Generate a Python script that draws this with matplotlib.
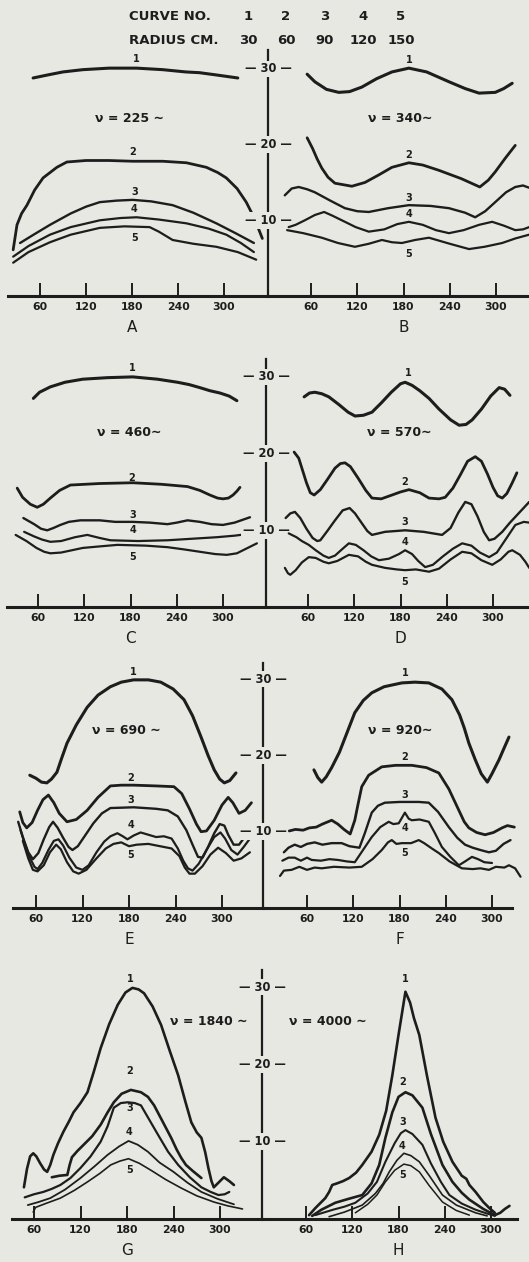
"""Radial distribution curves, eight frequencies (panels A-H), five radii each."""
import matplotlib
matplotlib.use("Agg")
import matplotlib.pyplot as plt
import matplotlib.transforms as mtransforms

W, H = 529, 1262
BG = "#e7e8e2"
INK = "#1d1d1d"

# ---------- data (angle in degrees, ordinate) ----------

CURVE_NO = ["1", "2", "3", "4", "5"]
RADIUS_CM = ["30", "60", "90", "120", "150"]
ANGLE_TICKS = [60, 120, 180, 240, 300]
Y_MARKS = [10, 20, 30]
PANELS = ["A", "B", "C", "D", "E", "F", "G", "H"]
FREQ_TEXT = ["ν = 225 ∼", "ν = 340∼", "ν = 460∼", "ν = 570∼",
             "ν = 690 ∼", "ν = 920∼", "ν = 1840 ∼", "ν = 4000 ∼"]

A1 = [(51, 28.8), (70, 29.2), (90, 29.6), (116, 29.9), (150, 30.1), (186, 30.1), (220, 29.9),
      (250, 29.6), (268, 29.5), (290, 29.2), (318, 28.8)]
A2 = [(25, 6.1), (30, 9.4), (36, 10.9), (43, 12.0), (53, 14.0), (64, 15.6), (82, 17.0), (95, 17.7),
      (120, 17.9), (150, 17.9), (181, 17.8), (220, 17.8), (251, 17.6), (277, 17.0), (292, 16.3),
      (303, 15.6), (317, 14.2), (329, 12.4), (337, 10.8), (343, 9.4), (350, 7.6)]
A3 = [(34, 7.0), (50, 8.0), (73, 9.4), (100, 10.9), (120, 11.8), (138, 12.4), (160, 12.6),
      (181, 12.7), (205, 12.5), (233, 12.0), (260, 11.0), (290, 9.6), (315, 8.3), (339, 7.0)]
A4 = [(25, 5.2), (45, 6.6), (73, 8.1), (100, 9.1), (138, 10.0), (165, 10.3), (186, 10.4),
      (215, 10.1), (251, 9.6), (280, 8.9), (303, 8.1), (322, 7.0), (339, 5.8)]
A5 = [(25, 4.4), (45, 5.8), (73, 7.1), (100, 8.1), (138, 9.0), (170, 9.2), (203, 9.1), (215, 8.5),
      (233, 7.4), (260, 6.9), (290, 6.5), (318, 5.8), (342, 4.8)]

B1 = [(55, 29.3), (65, 28.3), (80, 27.3), (96, 26.9), (110, 27.0), (126, 27.6), (145, 28.7),
      (165, 29.6), (187, 30.1), (210, 29.6), (239, 28.3), (260, 27.4), (278, 26.8), (299, 26.9),
      (310, 27.4), (321, 28.1)]
B2 = [(55, 20.9), (62, 19.5), (68, 18.1), (74, 16.9), (82, 15.7), (91, 14.9), (113, 14.5),
      (130, 15.0), (148, 16.0), (165, 17.0), (187, 17.6), (205, 17.3), (226, 16.6), (255, 15.5),
      (279, 14.4), (290, 15.3), (299, 16.4), (312, 18.2), (325, 19.9)]
B3 = [(26, 13.3), (35, 14.2), (44, 14.4), (55, 14.1), (65, 13.7), (85, 12.6), (104, 11.6),
      (120, 11.2), (135, 11.1), (160, 11.6), (187, 12.0), (215, 11.9), (239, 11.6), (260, 11.0),
      (273, 10.4), (286, 11.2), (299, 12.4), (313, 13.7), (325, 14.4), (335, 14.6), (343, 14.3)]
B4 = [(31, 9.1), (40, 9.4), (52, 10.0), (65, 10.7), (77, 11.1), (88, 10.6), (100, 10.0),
      (118, 9.1), (135, 8.5), (155, 8.8), (172, 9.5), (187, 9.8), (205, 9.4), (222, 8.7),
      (239, 8.3), (258, 8.7), (278, 9.4), (295, 9.8), (310, 9.3), (325, 8.7), (335, 8.8), (343, 9.1)]
B5 = [(29, 8.7), (50, 8.3), (74, 7.7), (95, 7.0), (117, 6.5), (135, 6.9), (152, 7.4), (165, 7.1),
      (178, 7.0), (195, 7.4), (213, 7.7), (240, 6.9), (265, 6.2), (285, 6.5), (308, 7.0),
      (325, 7.6), (343, 8.1)]

C1 = [(54, 27.2), (62, 28.0), (76, 28.7), (95, 29.3), (118, 29.7), (150, 29.9), (183, 30.0),
      (215, 29.7), (241, 29.3), (256, 29.0), (270, 28.6), (283, 28.2), (296, 27.9), (308, 27.5),
      (318, 26.9)]
C2 = [(33, 15.5), (40, 14.3), (50, 13.4), (59, 13.0), (67, 13.4), (76, 14.2), (88, 15.2),
      (102, 15.9), (140, 16.1), (183, 16.2), (220, 16.0), (254, 15.7), (270, 15.2), (283, 14.6),
      (293, 14.2), (300, 14.1), (307, 14.2), (313, 14.6), (318, 15.1), (322, 15.6)]
C3 = [(41, 11.6), (55, 10.8), (64, 10.2), (72, 10.0), (80, 10.3), (89, 10.7), (100, 11.1),
      (115, 11.3), (140, 11.3), (160, 11.1), (183, 11.1), (205, 11.0), (228, 10.8), (240, 11.0),
      (254, 11.3), (270, 11.1), (285, 10.8), (300, 10.7), (315, 11.0), (335, 11.7)]
C4 = [(42, 9.8), (55, 9.2), (65, 8.8), (76, 8.5), (90, 8.6), (108, 9.1), (124, 9.4), (140, 9.0),
      (154, 8.7), (190, 8.6), (228, 8.7), (260, 8.9), (292, 9.1), (315, 9.3), (339, 9.6)]
C5 = [(31, 9.4), (45, 8.6), (58, 7.7), (68, 7.2), (76, 7.0), (90, 7.1), (104, 7.4), (118, 7.7),
      (140, 7.9), (163, 8.1), (200, 8.0), (228, 7.8), (250, 7.5), (270, 7.2), (290, 6.9),
      (305, 6.8), (318, 7.0), (330, 7.6), (344, 8.3)]

D1 = [(55, 27.4), (62, 27.9), (69, 28.0), (78, 27.8), (87, 27.4), (100, 26.4), (112, 25.4),
      (121, 24.9), (132, 25.0), (143, 25.4), (155, 26.6), (168, 28.0), (180, 29.1), (186, 29.3),
      (195, 28.9), (205, 28.2), (217, 27.2), (230, 25.8), (245, 24.4), (256, 23.7), (265, 23.8),
      (273, 24.4), (285, 25.8), (297, 27.5), (308, 28.6), (315, 28.4), (322, 27.6)]
D2 = [(42, 20.2), (48, 19.4), (53, 17.8), (58, 16.2), (63, 14.9), (68, 14.6), (76, 15.3),
      (85, 16.6), (95, 18.1), (102, 18.7), (108, 18.8), (115, 18.3), (125, 16.8), (135, 15.2),
      (143, 14.2), (155, 14.1), (169, 14.6), (180, 15.0), (191, 15.3), (205, 14.9), (217, 14.2),
      (230, 14.1), (238, 14.3), (248, 15.5), (258, 17.3), (267, 19.0), (277, 19.6), (285, 19.0),
      (293, 17.3), (300, 15.6), (306, 14.5), (312, 14.2), (318, 14.8), (325, 16.2), (331, 17.5)]
D3 = [(31, 11.6), (37, 12.2), (43, 12.4), (50, 11.6), (58, 10.2), (66, 9.0), (72, 8.6), (76, 8.7),
      (85, 9.9), (95, 11.3), (105, 12.6), (114, 12.9), (121, 12.2), (130, 10.9), (137, 9.9),
      (143, 9.4), (160, 9.8), (186, 10.0), (210, 9.8), (234, 9.4), (245, 10.3), (255, 12.3),
      (264, 13.7), (272, 13.4), (280, 11.8), (288, 9.8), (295, 8.7), (302, 8.9), (312, 9.8),
      (322, 11.0), (335, 12.4), (347, 13.7)]
D4 = [(35, 9.6), (45, 9.1), (52, 8.6), (61, 8.1), (70, 7.4), (80, 6.7), (87, 6.4), (95, 6.7),
      (105, 7.6), (113, 8.3), (122, 8.1), (132, 7.4), (142, 6.6), (152, 6.1), (165, 6.3),
      (178, 6.9), (186, 7.4), (195, 6.9), (203, 6.0), (212, 5.2), (222, 5.5), (235, 6.6),
      (248, 7.6), (260, 8.3), (272, 8.0), (283, 7.1), (295, 6.5), (305, 7.1), (315, 8.6),
      (329, 10.7), (340, 11.1), (347, 11.0)]
D5 = [(30, 5.1), (34, 4.4), (37, 4.2), (44, 4.8), (52, 5.8), (61, 6.5), (70, 6.4), (80, 5.9),
      (87, 5.7), (98, 6.0), (113, 6.8), (125, 6.6), (135, 5.9), (143, 5.5), (160, 5.1), (175, 4.9),
      (186, 4.8), (200, 4.9), (217, 4.6), (230, 5.0), (245, 6.2), (260, 7.2), (272, 7.0),
      (285, 6.1), (299, 5.5), (310, 6.2), (320, 7.2), (325, 7.4), (335, 6.8), (342, 5.9), (347, 5.1)]

E1 = [(52, 17.4), (60, 17.0), (67, 16.5), (74, 16.4), (80, 16.9), (87, 17.8), (93, 19.6),
      (100, 21.6), (112, 24.0), (126, 26.3), (140, 27.9), (156, 29.0), (170, 29.6), (186, 29.9),
      (205, 29.9), (221, 29.6), (237, 28.7), (251, 27.3), (262, 25.2), (273, 22.4), (282, 20.0),
      (290, 18.1), (297, 16.9), (303, 16.4), (310, 16.7), (318, 17.7)]
E2 = [(39, 12.6), (43, 11.2), (48, 10.5), (55, 11.2), (62, 12.8), (69, 14.2), (76, 14.8),
      (83, 13.8), (90, 12.4), (100, 11.3), (112, 11.6), (126, 12.8), (140, 14.5), (156, 16.0),
      (170, 16.1), (186, 16.1), (215, 16.0), (238, 15.9), (248, 15.0), (258, 13.0), (267, 11.0),
      (273, 10.0), (280, 10.1), (290, 11.5), (300, 13.5), (308, 14.5), (314, 13.8), (322, 12.4),
      (330, 12.8), (338, 13.8)]
E3 = [(37, 11.3), (43, 9.3), (50, 7.3), (56, 6.4), (63, 7.2), (70, 9.0), (77, 10.6), (82, 11.3),
      (88, 10.5), (95, 9.2), (102, 8.0), (107, 7.6), (114, 8.1), (124, 9.6), (134, 11.1),
      (145, 12.4), (156, 13.1), (186, 13.2), (215, 13.0), (230, 12.8), (243, 12.0), (254, 10.2),
      (262, 8.3), (269, 6.7), (275, 6.6), (282, 8.0), (290, 9.8), (297, 11.0), (303, 10.8),
      (308, 9.6), (315, 8.3), (322, 8.3), (330, 9.4), (336, 10.5)]
E4 = [(40, 10.2), (45, 8.6), (52, 6.6), (58, 5.4), (62, 5.1), (68, 5.9), (76, 7.6), (83, 8.8),
      (89, 9.0), (95, 8.2), (103, 6.6), (112, 5.3), (120, 5.0), (128, 5.6), (138, 7.3), (148, 8.7),
      (156, 9.4), (165, 9.8), (172, 9.4), (178, 9.0), (186, 9.5), (195, 9.9), (205, 9.6),
      (215, 9.3), (225, 9.4), (235, 9.1), (243, 7.8), (250, 6.2), (256, 5.2), (262, 4.9),
      (270, 5.8), (280, 7.6), (290, 9.3), (298, 9.9), (304, 9.1), (312, 7.6), (320, 7.0),
      (328, 8.0), (336, 9.1)]
E5 = [(43, 8.8), (50, 6.5), (56, 5.0), (62, 4.8), (70, 5.6), (78, 7.3), (86, 8.3), (92, 7.7),
      (100, 6.0), (108, 4.8), (115, 4.5), (125, 5.0), (138, 6.5), (150, 7.8), (160, 8.4),
      (170, 8.6), (180, 8.1), (190, 8.3), (205, 8.4), (220, 8.1), (235, 7.8), (245, 6.8),
      (252, 5.3), (258, 4.5), (265, 4.5), (275, 5.5), (285, 7.0), (295, 7.9), (305, 7.2),
      (315, 6.2), (325, 6.5), (336, 7.3)]

F1 = [(69, 18.1), (74, 17.1), (79, 16.5), (85, 17.2), (92, 18.4), (102, 20.4), (112, 23.0),
      (122, 25.6), (133, 27.2), (144, 28.2), (160, 29.0), (183, 29.5), (200, 29.6), (218, 29.5),
      (235, 28.7), (248, 27.3), (258, 25.3), (264, 23.6), (270, 21.6), (278, 19.5), (286, 17.6),
      (294, 16.5), (300, 17.6), (309, 19.4), (315, 20.8), (322, 22.4)]
F2 = [(37, 10.1), (45, 10.3), (55, 10.2), (63, 10.5), (72, 10.6), (80, 11.0), (92, 11.5),
      (100, 11.0), (108, 10.3), (116, 9.7), (122, 11.5), (126, 13.5), (131, 15.9), (140, 17.4),
      (157, 18.5), (175, 18.7), (196, 18.7), (215, 18.4), (231, 17.7), (244, 15.6), (257, 12.8),
      (264, 11.3), (270, 10.5), (280, 9.9), (291, 9.6), (302, 9.9), (313, 10.5), (320, 10.8),
      (329, 10.6)]
F3 = [(30, 7.3), (36, 7.9), (44, 8.3), (52, 8.0), (60, 8.4), (70, 8.6), (80, 8.3), (92, 8.5),
      (105, 8.5), (115, 8.1), (128, 7.9), (135, 9.8), (144, 12.5), (152, 13.4), (161, 13.8),
      (180, 13.9), (192, 13.9), (205, 13.9), (218, 13.8), (230, 12.6), (244, 10.6), (255, 9.2),
      (265, 8.3), (275, 7.9), (285, 7.6), (296, 7.3), (305, 7.5), (315, 8.4), (324, 8.9)]
F4 = [(28, 6.2), (36, 6.6), (44, 6.6), (52, 6.2), (60, 6.6), (66, 6.3), (78, 6.2), (89, 6.4),
      (100, 6.3), (112, 6.1), (122, 6.0), (132, 7.5), (144, 9.3), (155, 10.6), (166, 11.3),
      (172, 11.0), (179, 11.1), (187, 12.5), (192, 11.7), (196, 11.5), (206, 11.6), (218, 11.3),
      (226, 9.8), (235, 8.0), (246, 6.7), (257, 5.6), (265, 6.1), (274, 6.7), (282, 6.4),
      (290, 6.0), (300, 5.9)]
F5 = [(25, 4.2), (30, 4.9), (40, 5.0), (50, 5.4), (60, 5.0), (70, 5.3), (79, 5.2), (95, 5.4),
      (115, 5.3), (131, 5.4), (145, 6.4), (157, 7.6), (165, 8.6), (170, 8.9), (176, 8.4),
      (183, 8.5), (195, 8.5), (205, 8.9), (212, 8.5), (222, 7.8), (231, 7.2), (245, 6.1),
      (261, 5.2), (275, 5.1), (285, 5.2), (296, 5.0), (305, 5.4), (316, 5.3), (322, 5.6),
      (330, 5.2), (337, 4.1)]

G1 = [(47, 4.1), (51, 6.5), (55, 8.1), (59, 8.5), (63, 8.1), (68, 7.2), (73, 6.4), (77, 6.1),
      (81, 7.0), (85, 8.3), (91, 9.8), (98, 11.3), (105, 12.6), (111, 13.8), (120, 15.0),
      (129, 16.4), (137, 19.0), (146, 22.1), (157, 25.2), (168, 27.7), (178, 29.3), (187, 29.9),
      (195, 29.7), (202, 29.2), (213, 27.5), (224, 25.1), (235, 21.8), (246, 18.6), (255, 15.3),
      (263, 12.5), (270, 11.2), (276, 10.5), (281, 8.6), (285, 6.6), (289, 4.9), (292, 4.1),
      (297, 4.6), (305, 5.4), (312, 4.9), (318, 4.4)]
G2 = [(83, 5.4), (93, 5.6), (103, 5.7), (106, 7.0), (109, 8.0), (116, 8.8), (124, 9.6),
      (135, 10.7), (146, 12.2), (155, 13.8), (163, 15.1), (173, 16.2), (185, 16.7), (198, 16.4),
      (207, 15.8), (215, 14.7), (226, 12.6), (237, 10.5), (244, 9.0), (250, 7.9), (256, 7.0),
      (265, 6.2), (276, 5.3)]
G3 = [(48, 2.8), (60, 3.2), (72, 3.5), (83, 3.9), (94, 4.4), (107, 5.3), (120, 6.6), (133, 8.1),
      (146, 10.0), (155, 12.0), (163, 14.4), (172, 15.0), (181, 15.1), (190, 15.0), (198, 14.7),
      (209, 12.8), (220, 10.9), (233, 8.7), (246, 7.0), (261, 5.4), (276, 4.1), (288, 3.5),
      (298, 3.1), (306, 3.2), (312, 3.5)]
G4 = [(52, 1.8), (66, 2.2), (81, 2.7), (100, 3.8), (120, 5.3), (138, 6.8), (155, 8.3), (170, 9.4),
      (182, 10.1), (194, 9.6), (207, 8.7), (222, 7.3), (240, 6.1), (258, 4.7), (276, 3.5),
      (297, 2.6), (318, 1.9)]
G5 = [(59, 0.9), (62, 1.5), (75, 2.0), (94, 2.7), (112, 3.7), (129, 4.8), (145, 5.9), (159, 7.0),
      (171, 7.5), (182, 7.8), (196, 7.2), (211, 6.3), (230, 5.1), (250, 4.0), (270, 3.0),
      (292, 2.2), (310, 1.7), (329, 1.3)]

H1 = [(64, 0.5), (72, 1.4), (80, 2.2), (85, 2.7), (90, 3.5), (94, 4.4), (100, 4.6), (108, 4.9),
      (116, 5.3), (125, 6.0), (133, 7.0), (145, 8.7), (155, 10.9), (164, 14.0), (172, 18.6),
      (180, 23.8), (189, 29.4), (195, 28.0), (200, 26.0), (207, 23.8), (217, 18.5), (228, 13.1),
      (238, 10.0), (250, 7.4), (262, 5.6), (268, 5.2), (272, 4.4), (280, 3.5), (290, 2.2),
      (298, 1.4), (305, 0.8)]
H2 = [(68, 0.4), (80, 1.2), (98, 2.1), (115, 2.6), (133, 3.1), (145, 4.6), (155, 7.0), (163, 10.5),
      (172, 13.8), (180, 15.8), (189, 16.4), (198, 16.0), (211, 14.4), (222, 11.0), (237, 7.0),
      (250, 4.8), (262, 3.4), (272, 2.5), (290, 1.3), (305, 0.5), (312, 0.8), (318, 1.3), (324, 1.7)]
H3 = [(72, 0.5), (95, 1.2), (110, 1.6), (124, 2.1), (140, 3.3), (152, 4.8), (163, 7.4), (175, 9.8),
      (183, 11.1), (189, 11.5), (198, 11.0), (211, 9.6), (222, 7.2), (235, 4.8), (246, 3.1),
      (262, 2.0), (280, 1.2), (295, 0.7), (305, 0.4)]
H4 = [(90, 0.3), (110, 0.9), (133, 1.8), (150, 3.3), (160, 4.6), (168, 6.1), (178, 7.6), (187, 8.5),
      (196, 8.2), (207, 7.4), (220, 5.6), (237, 3.1), (255, 1.8), (270, 1.2), (280, 0.8), (295, 0.4)]
H5 = [(124, 0.8), (140, 1.9), (152, 3.1), (163, 4.8), (175, 6.3), (187, 7.1), (196, 6.9),
      (207, 6.1), (220, 4.3), (237, 2.2), (255, 1.1), (272, 0.5)]

# where the curve numbers are lettered, one (angle, ordinate) per curve
LABELS_A = [(186, 31.3), (181, 19.0), (183, 13.7), (183, 11.5), (183, 7.6)]
LABELS_B = [(188, 31.2), (187, 18.6), (187, 12.9), (187, 10.8), (187, 5.5)]
LABELS_C = [(183, 31.2), (182, 16.8), (183, 12.0), (183, 10.0), (183, 6.5)]
LABELS_D = [(190, 30.5), (186, 16.3), (186, 11.1), (186, 8.5), (186, 3.3)]
LABELS_E = [(185, 30.9), (182, 17.0), (182, 14.2), (182, 10.9), (182, 7.0)]
LABELS_F = [(187, 30.8), (187, 19.8), (187, 14.8), (187, 10.5), (187, 7.2)]
LABELS_G = [(184, 31.0), (184, 19.1), (183, 14.4), (183, 11.3), (183, 6.3)]
LABELS_H = [(189, 31.0), (186, 17.7), (186, 12.5), (185, 9.5), (185, 5.7)]

FREQ_POS = [(177, 23.5), (176, 23.5), (179, 22.7), (179, 22.7),
            (176, 23.3), (181, 23.3), (285, 25.5), (89, 25.5)]

CURVES = {"A": [A1, A2, A3, A4, A5], "B": [B1, B2, B3, B4, B5],
          "C": [C1, C2, C3, C4, C5], "D": [D1, D2, D3, D4, D5],
          "E": [E1, E2, E3, E4, E5], "F": [F1, F2, F3, F4, F5],
          "G": [G1, G2, G3, G4, G5], "H": [H1, H2, H3, H4, H5]}
LABELS = {"A": LABELS_A, "B": LABELS_B, "C": LABELS_C, "D": LABELS_D,
          "E": LABELS_E, "F": LABELS_F, "G": LABELS_G, "H": LABELS_H}

# ---------- layout (pixels of the 529x1262 sheet) ----------

ROW_BASE = [296, 607, 908, 1219]
ROW_TOP = [50, 359, 663, 970]
CENTER_X = [268, 266, 263, 262]
LEFT_X = [8, 7, 13, 12]
RIGHT_X = [529, 529, 512, 517]
LEFT_T60 = [40, 38, 36, 34]
LEFT_T300 = [224, 223, 222, 220]
RIGHT_T60 = [311, 308, 307, 306]
RIGHT_T300 = [496, 493, 492, 491]
PX_PER_UNIT = [7.57, 7.67, 7.63, 7.73]

LW_DEFAULT = [2.2, 2.0, 1.7, 1.6, 1.6]
LW_PANEL = {"G": [1.9, 1.9, 1.6, 1.3, 1.2], "H": [1.9, 1.9, 1.5, 1.2, 1.1]}

plt.rcParams["font.family"] = ["DejaVu Sans"]


def make_axes(fig, x0, x1, ytop, ybase, t60, t300, ppu):
    ax = fig.add_axes([x0 / W, 1 - ybase / H, (x1 - x0) / W, (ybase - ytop) / H])
    k = 240.0 / (t300 - t60)
    ax.set_xlim(60 + (x0 - t60) * k, 60 + (x1 - t60) * k)
    ax.set_ylim(0, (ybase - ytop) / ppu)
    ax.patch.set_alpha(0)
    for side in ("top", "left", "right"):
        ax.spines[side].set_visible(False)
    ax.spines["bottom"].set_linewidth(2.2)
    ax.spines["bottom"].set_color(INK)
    ax.set_xticks(ANGLE_TICKS)
    ax.set_xticklabels([str(t) for t in ANGLE_TICKS])
    ax.tick_params(axis="x", direction="in", length=9.5, width=1.4, color=INK,
                   pad=4.5, labelsize=7.8, labelcolor=INK)
    for lab in ax.get_xticklabels():
        lab.set_fontweight("bold")
    ax.set_yticks([])
    return ax


def draw_panel(ax, key, idx):
    lws = LW_PANEL.get(key, LW_DEFAULT)
    for curve, lw in zip(CURVES[key], lws):
        xs = [p[0] for p in curve]
        ys = [p[1] for p in curve]
        ax.plot(xs, ys, color=INK, lw=lw, solid_joinstyle="round",
                solid_capstyle="round", clip_on=False)
    for num, (x, y) in zip(CURVE_NO, LABELS[key]):
        ax.text(x, y, num, ha="center", va="center", fontsize=7,
                fontweight="bold", color=INK)
    fx, fy = FREQ_POS[idx]
    ax.text(fx, fy, FREQ_TEXT[idx], ha="center", va="center", fontsize=9,
            fontweight="bold", color=INK)
    ax.annotate(key, xy=(180, 0), xycoords="data", xytext=(0, -23),
                textcoords="offset points", ha="center", va="center",
                fontsize=11, color=INK)


fig = plt.figure(figsize=(W / 100, H / 100), dpi=100, facecolor=BG)

# header table
hdr_x = [248, 286, 325, 363, 401]
fig.text(129 / W, 1 - 17 / H, "CURVE NO.", ha="left", va="center",
         fontsize=9.5, fontweight="bold", color=INK)
fig.text(129 / W, 1 - 40 / H, "RADIUS CM.", ha="left", va="center",
         fontsize=9.5, fontweight="bold", color=INK)
for x, n, r in zip(hdr_x, CURVE_NO, RADIUS_CM):
    fig.text(x / W, 1 - 17 / H, n, ha="center", va="center",
             fontsize=9.5, fontweight="bold", color=INK)
    fig.text(x / W, 1 - 40 / H, r, ha="center", va="center",
             fontsize=9.5, fontweight="bold", color=INK)

for row in range(4):
    left_key, right_key = PANELS[2 * row], PANELS[2 * row + 1]
    axl = make_axes(fig, LEFT_X[row], CENTER_X[row], ROW_TOP[row], ROW_BASE[row],
                    LEFT_T60[row], LEFT_T300[row], PX_PER_UNIT[row])
    axr = make_axes(fig, CENTER_X[row], RIGHT_X[row], ROW_TOP[row], ROW_BASE[row],
                    RIGHT_T60[row], RIGHT_T300[row], PX_PER_UNIT[row])

    # centre scale line with its 10 / 20 / 30 marks
    axl.spines["right"].set_visible(True)
    axl.spines["right"].set_linewidth(1.6)
    axl.spines["right"].set_color(INK)
    trans = mtransforms.blended_transform_factory(axl.transAxes, axl.transData)
    for v in Y_MARKS:
        axl.text(1.0, v, f"— {v} —", transform=trans, ha="center", va="center",
                 fontsize=8.3, fontweight="bold", color=INK, zorder=5,
                 bbox=dict(boxstyle="square,pad=0.15", fc=BG, ec="none"))

    draw_panel(axl, left_key, 2 * row)
    draw_panel(axr, right_key, 2 * row + 1)

fig.savefig("out.png", dpi=100, facecolor=BG)
